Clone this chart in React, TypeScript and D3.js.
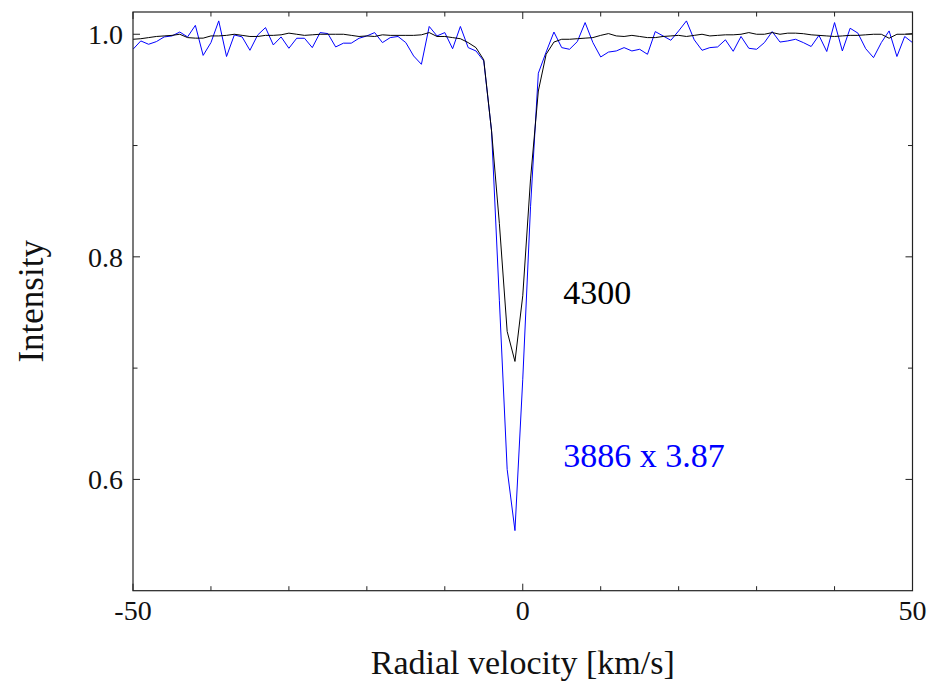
import React from "react";
import * as d3 from "d3";

const velocities = [
  -50, -49, -48, -47, -46, -45, -44, -43, -42, -41, -40, -39, -38, -37, -36, -35, -34, -33, -32, -31,
  -30, -29, -28, -27, -26, -25, -24, -23, -22, -21, -20, -19, -18, -17, -16, -15, -14, -13, -12, -11,
  -10, -9, -8, -7, -6, -5, -4, -3, -2, -1, 0, 1, 2, 3, 4, 5, 6, 7, 8, 9,
  10, 11, 12, 13, 14, 15, 16, 17, 18, 19, 20, 21, 22, 23, 24, 25, 26, 27, 28, 29,
  30, 31, 32, 33, 34, 35, 36, 37, 38, 39, 40, 41, 42, 43, 44, 45, 46, 47, 48, 49, 50,
];

// 4300 line (black)
const intensity4300 = [
  0.9955, 0.996, 0.997, 0.998, 0.9985, 0.999, 1.0, 0.997, 0.9965, 0.9965,
  0.9985, 0.9985, 0.999, 1.0, 0.999, 0.998, 0.998, 0.999, 0.999, 0.9995,
  1.001, 1.0, 0.999, 0.9995, 1.0, 1.0, 1.0, 1.0, 0.999, 0.998,
  0.9985, 0.998, 0.9995, 0.999, 0.999, 0.999, 0.999, 0.9995, 1.0015, 0.998,
  0.998, 0.997, 0.996, 0.9925, 0.988, 0.977, 0.913, 0.83, 0.733, 0.706,
  0.765, 0.87, 0.949, 0.982, 0.993, 0.9955, 0.9955, 0.996, 0.9965, 0.997,
  0.999, 1.0006, 0.9985, 0.998, 0.999, 0.998, 0.997, 0.997, 0.998, 0.9985,
  0.999, 0.998, 0.999, 1.0, 0.9985, 0.999, 0.9995, 0.9995, 1.0, 1.0015,
  1.0, 1.0, 1.0015, 1.0, 1.001, 1.001, 1.0005, 0.9995, 0.999, 0.9985,
  0.998, 0.9985, 0.999, 0.999, 0.9995, 1.0, 1.0, 0.9964, 1.0, 1.0, 1.0006,
];

// 3886 line scaled x 3.87 (blue)
const intensity3886 = [
  0.9865, 0.994, 0.991, 0.9934, 0.9976, 0.9985, 1.002, 0.9976, 1.008, 0.981,
  0.9925, 1.012, 0.98, 0.9994, 0.9976, 0.9856, 0.9994, 1.006, 0.9904, 0.9976,
  0.9874, 0.9964, 0.9964, 0.988, 1.0015, 1.0006, 0.9886, 0.992, 0.992, 0.9964,
  0.9985, 1.0015, 0.9925, 0.997, 0.998, 0.9925, 0.9805, 0.973, 1.007, 0.9985,
  1.0015, 0.987, 1.007, 0.988, 0.985, 0.976, 0.913, 0.761, 0.609, 0.554,
  0.69, 0.845, 0.965, 0.984, 1.002, 0.988, 0.9865, 0.9934, 1.0105, 0.9925,
  0.9796, 0.984, 0.985, 0.988, 0.985, 0.9865, 0.982, 1.0024, 0.9985, 0.9946,
  1.003, 1.012, 0.995, 0.9856, 0.988, 0.9886, 0.995, 0.9847, 0.998, 0.9874,
  0.9865, 0.9925, 1.0024, 0.993, 0.994, 0.9955, 0.9925, 0.989, 0.999, 0.9845,
  1.0105, 0.985, 1.0054, 1.001, 0.987, 0.979, 0.9925, 1.003, 0.98, 0.998, 0.9925,
];

const xMajorTicks = [-50, 0, 50];
const xMinorTicks = [-40, -30, -20, -10, 10, 20, 30, 40];
const yMajorTicks = [0.6, 0.8, 1.0];
const yMinorTicks = [0.7, 0.9];
const annotations = [
  { text: "4300", v: 5.2, i: 0.7575, color: "#000000" },
  { text: "3886 x 3.87", v: 5.2, i: 0.611, color: "#0000ff" },
];

const W = 931;
const H = 688;
const margin = { left: 133, right: 18.5, top: 12, bottom: 97.3 };
const FONT = "'Liberation Serif', 'Times New Roman', serif";

export default function App() {
  const x = d3.scaleLinear().domain([-50, 50]).range([margin.left, W - margin.right]);
  const y = d3.scaleLinear().domain([0.5, 1.02]).range([H - margin.bottom, margin.top]);
  const x0 = x.range()[0], x1 = x.range()[1];
  const y0 = y.range()[0], y1 = y.range()[1];

  const line = d3
    .line<number>()
    .x((_, idx) => x(velocities[idx]))
    .y((d) => y(d));

  const majLen = 7;
  const minLen = 4.5;
  const axisColor = "#222";

  return (
    <div style={{ position: "absolute", left: 0, top: 0 }}>
      <svg width={W} height={H} style={{ display: "block", background: "#fff" }}>
        <defs>
          <clipPath id="plotclip">
            <rect x={x0} y={y1} width={x1 - x0} height={y0 - y1} />
          </clipPath>
        </defs>
        <g clipPath="url(#plotclip)">
          <path d={line(intensity3886) || ""} fill="none" stroke="#0000ff" strokeWidth={1} />
          <path d={line(intensity4300) || ""} fill="none" stroke="#000" strokeWidth={1} />
        </g>
        {/* frame */}
        <rect x={x0} y={y1} width={x1 - x0} height={y0 - y1} fill="none" stroke={axisColor} strokeWidth={1.2} />
        {/* x ticks */}
        {xMajorTicks.map((t) => (
          <g key={"xm" + t}>
            <line x1={x(t)} x2={x(t)} y1={y0} y2={y0 - majLen} stroke={axisColor} />
            <line x1={x(t)} x2={x(t)} y1={y1} y2={y1 + majLen} stroke={axisColor} />
            <text x={x(t)} y={y0 + 29} textAnchor="middle" fontFamily={FONT} fontSize={28} fill="#111">
              {t}
            </text>
          </g>
        ))}
        {xMinorTicks.map((t) => (
          <g key={"xn" + t}>
            <line x1={x(t)} x2={x(t)} y1={y0} y2={y0 - minLen} stroke={axisColor} />
            <line x1={x(t)} x2={x(t)} y1={y1} y2={y1 + minLen} stroke={axisColor} />
          </g>
        ))}
        {/* y ticks */}
        {yMajorTicks.map((t) => (
          <g key={"ym" + t}>
            <line x1={x0} x2={x0 + majLen} y1={y(t)} y2={y(t)} stroke={axisColor} />
            <line x1={x1} x2={x1 - majLen} y1={y(t)} y2={y(t)} stroke={axisColor} />
            <text x={x0 - 10} y={y(t)} dy="0.35em" textAnchor="end" fontFamily={FONT} fontSize={28} fill="#111">
              {d3.format(".1f")(t)}
            </text>
          </g>
        ))}
        {yMinorTicks.map((t) => (
          <g key={"yn" + t}>
            <line x1={x0} x2={x0 + minLen} y1={y(t)} y2={y(t)} stroke={axisColor} />
            <line x1={x1} x2={x1 - minLen} y1={y(t)} y2={y(t)} stroke={axisColor} />
          </g>
        ))}
        {/* annotations */}
        {annotations.map((a) => (
          <text key={a.text} x={x(a.v)} y={y(a.i)} fontFamily={FONT} fontSize={34} fill={a.color}>
            {a.text}
          </text>
        ))}
        {/* axis titles */}
        <text x={(x0 + x1) / 2} y={674} textAnchor="middle" fontFamily={FONT} fontSize={34} fill="#111">
          Radial velocity [km/s]
        </text>
        <text
          transform={`translate(43, ${(y0 + y1) / 2}) rotate(-90)`}
          textAnchor="middle"
          fontFamily={FONT}
          fontSize={35}
          fill="#111"
        >
          Intensity
        </text>
      </svg>
    </div>
  );
}
